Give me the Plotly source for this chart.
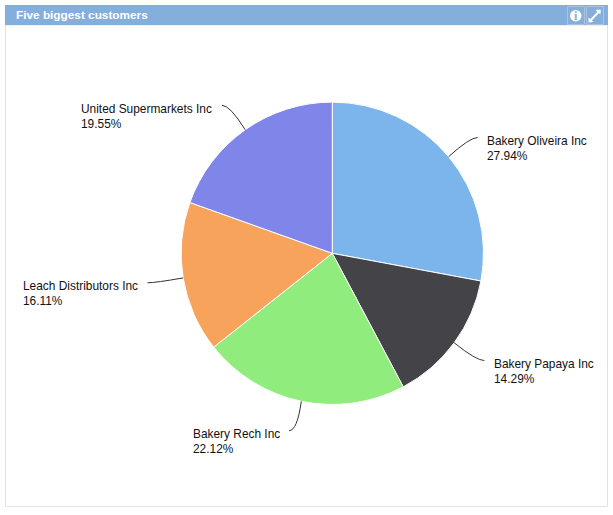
import math
import plotly.graph_objects as go

customers = ["Bakery Oliveira Inc", "Bakery Papaya Inc", "Bakery Rech Inc", "Leach Distributors Inc", "United Supermarkets Inc"]
shares = [27.94, 14.29, 22.12, 16.11, 19.55]
colors = ["#7CB5EC", "#434348", "#90ED7D", "#F7A35C", "#8085E9"]
title = "Five biggest customers"

W, H = 613, 515
CX, CY, R = 332.3, 253.3, 151.2
DIST = 30

def px(x): return x / W
def py(y): return 1 - y / H

fig = go.Figure(go.Pie(
    labels=customers, values=shares, sort=False, direction="clockwise", rotation=0,
    marker=dict(colors=colors, line=dict(color="white", width=1)),
    textinfo="none", hoverinfo="label+percent", showlegend=False,
    domain=dict(x=[px(CX - R), px(CX + R)], y=[py(CY + R), py(CY - R)]),
))

shapes = [
    dict(type="rect", xref="paper", yref="paper", x0=px(5.5), x1=px(607.5), y0=py(506.5), y1=py(25),
         line=dict(color="#E2E2E2", width=1), fillcolor="white", layer="below"),
    dict(type="rect", xref="paper", yref="paper", x0=px(5), x1=px(608), y0=py(25), y1=py(5),
         line=dict(width=0), fillcolor="#84AEDB", layer="below"),
    dict(type="rect", xref="paper", yref="paper", x0=px(567.5), x1=px(584.5), y0=py(24.5), y1=py(6.5),
         line=dict(color="#A9C3DE", width=1), fillcolor="#84AEDB"),
    dict(type="rect", xref="paper", yref="paper", x0=px(586.5), x1=px(603.5), y0=py(24.5), y1=py(6.5),
         line=dict(color="#A9C3DE", width=1), fillcolor="#84AEDB"),
    dict(type="circle", xref="paper", yref="paper", x0=px(570), x1=px(581.5), y0=py(21.5), y1=py(10),
         line=dict(width=0), fillcolor="white"),
    dict(type="line", xref="paper", yref="paper", x0=px(589.5), x1=px(600), y0=py(21.5), y1=py(10.5),
         line=dict(color="white", width=2)),
]
for tip, a, b in [((600.5, 9.5), (595.5, 10), (600.5, 14.5)), ((588.5, 22.5), (593.5, 22), (588.5, 17.5))]:
    shapes.append(dict(type="path", xref="paper", yref="paper",
                       path=f"M {px(tip[0])} {py(tip[1])} L {px(a[0])} {py(a[1])} L {px(b[0])} {py(b[1])} Z",
                       fillcolor="white", line=dict(width=0)))

annotations = [
    dict(text=f"<b>{title}</b>", x=px(13.5), y=py(15), xref="paper", yref="paper", xanchor="left", yanchor="middle",
         showarrow=False, font=dict(family="Liberation Sans", size=11.8, color="white")),
    dict(text="<b>i</b>", x=px(575.8), y=py(15.8), xref="paper", yref="paper", xanchor="center", yanchor="middle",
         showarrow=False, font=dict(family="Liberation Serif", size=12, color="#84AEDB")),
]

total = sum(shares)
cum = 0
for name, v in zip(customers, shares):
    ang = 2 * math.pi * (cum + v / 2) / total
    cum += v
    s, c = math.sin(ang), math.cos(ang)
    ex, ey = CX + R * s, CY - R * c
    ax, ay = CX + (R + DIST) * s, CY - (R + DIST) * c
    side = 1 if s >= 0 else -1
    end = ax + side * 6
    shapes.append(dict(type="path", xref="paper", yref="paper",
                       path=f"M {px(ex)} {py(ey)} Q {px(ax - side * 2)} {py(ay)} {px(end)} {py(ay)}",
                       line=dict(color="#333333", width=1)))
    lx = ax + side * 13.5
    annotations.append(dict(
        text=f"{name}<br>{v:.2f}%", x=px(lx), y=py(ay + 11), xref="paper", yref="paper",
        xanchor="left" if side > 0 else "right", yanchor="middle", align="left", showarrow=False,
        font=dict(family="Liberation Sans", size=11.9, color="#111111"),
    ))

fig.update_layout(
    width=W, height=H, margin=dict(l=0, r=0, t=0, b=0), autosize=False,
    paper_bgcolor="white", plot_bgcolor="white", shapes=shapes, annotations=annotations,
)
fig.write_html("out.html", config=dict(displayModeBar=False),
               post_script="document.body.style.margin='0';document.body.style.overflow='hidden';")
